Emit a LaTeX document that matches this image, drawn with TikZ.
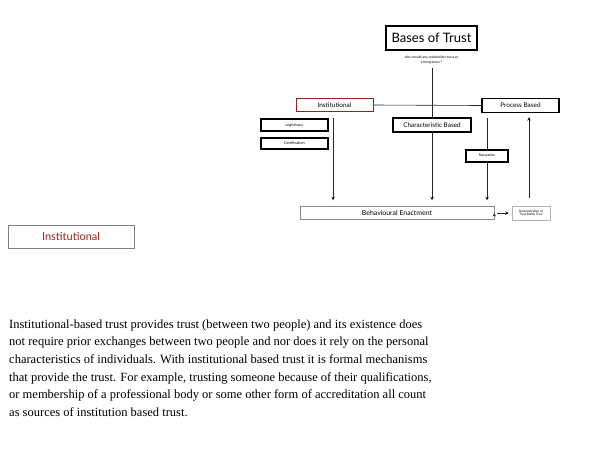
\documentclass[tikz,border=0pt]{standalone}
\usepackage{fontspec}
\setmainfont{Liberation Serif}
\newfontfamily\gillfont{Lato}
\usepackage{tikz}
\usetikzlibrary{arrows}

\definecolor{instred}{RGB}{150,35,30}

\begin{document}
\begin{tikzpicture}
        [
        x = 1pt, y = -1pt,
        >= stealth,
        basebox/.style = {
            draw, line width = 1.1pt,
            inner sep = 0pt,
            align = center,
            font = \gillfont\fontsize{6.4}{7.5}\selectfont,
        },
        smallbox/.style = {
            basebox,
            font = \gillfont\fontsize{3.8}{4.4}\selectfont,
        },
        thinbox/.style = {
            draw = black!45, line width = 0.5pt,
            inner sep = 0pt,
            align = center,
            font = \gillfont\fontsize{6.9}{8}\selectfont,
        },
        link/.style = {
            line width = 0.6pt,
            draw = black!85,
        },
        ]
        \useasboundingbox (0,0) rectangle (600,461);

        % Kop
        \node[basebox, minimum width = 91pt, minimum height = 24pt,
              line width = 1.3pt, font = \gillfont\fontsize{13}{15}\selectfont] (bases) at (431.5,38) {Bases of Trust};
        \node[align = center, inner sep = 0pt, font = \gillfont\fontsize{3.4}{4.1}\selectfont] (question) at (431.5,60)
            {why should any stakeholder trust an\\entrepreneur?};
        \coordinate (question_foot) at (432,68);

        % Bronnen
        \node[basebox, draw = instred, line width = 0.9pt, minimum width = 77pt, minimum height = 13pt] (institutional) at (334.5,105) {Institutional};
        \node[basebox, minimum width = 77pt, minimum height = 14pt] (process) at (520.5,105.5) {Process Based};
        \node[basebox, minimum width = 78pt, minimum height = 14pt] (characteristic) at (432,125) {Characteristic Based};
        \node[smallbox, minimum width = 67pt, minimum height = 12pt] (legitimacy) at (294.5,125) {Legitimacy};
        \node[smallbox, minimum width = 67pt, minimum height = 11pt] (certification) at (294.5,143.5) {Certification};
        \node[smallbox, minimum width = 42pt, minimum height = 12pt, font = \gillfont\fontsize{3.4}{4}\selectfont] (reputation) at (487,156) {Reputation};

        % Uitkomst
        \node[thinbox, minimum width = 194pt, minimum height = 13pt] (behaviour) at (397,213) {Behavioural Enactment};
        \node[thinbox, draw = black!30, minimum width = 38pt, minimum height = 14pt,
              font = \gillfont\fontsize{3.1}{3.7}\selectfont] (demonstration) at (531,213) {Demonstration of\\Trust Builds Trust};
        \coordinate (feedback_foot) at (529,198);

        % Verbindingen
        \path[link]
            (question_foot) edge (characteristic.north)
            (institutional.east) edge (process.west)
            (process.south -| reputation.north) edge[shorten <= 5pt] (reputation.north);

        \path[link, ->]
            (characteristic.south) edge[shorten >= 6pt] (characteristic.south |- behaviour.north)
            ([xshift = -1.5pt]institutional.south) edge[shorten <= 6pt, shorten >= 6pt] ([xshift = -1.5pt]institutional.south |- behaviour.north)
            (reputation.south) edge[shorten >= 6pt] (reputation.south |- behaviour.north)
            (feedback_foot) edge[shorten >= 4pt] (feedback_foot |- process.south)
            (behaviour.east) edge[shorten <= 3pt, shorten >= 3pt] (demonstration.west);

        % Tekst
        \node[thinbox, draw = black!50, minimum width = 126pt, minimum height = 23pt,
              text = instred, font = \gillfont\fontsize{11}{13}\selectfont] (label) at (71,236.5) {Institutional};

        \node[anchor = north west, inner sep = 0pt, align = left,
              font = \fontsize{12.5}{17.6}\selectfont] (explanation) at (9,319.5)
            {Institutional-based trust provides trust (between two people) and its existence does\\
             not require prior exchanges between two people and nor does it rely on the personal\\
             characteristics of individuals. With institutional based trust it is formal mechanisms\\
             that provide the trust. For example, trusting someone because of their qualifications,\\
             or membership of a professional body or some other form of accreditation all count\\
             as sources of institution based trust.};
    \end{tikzpicture}
\end{document}
